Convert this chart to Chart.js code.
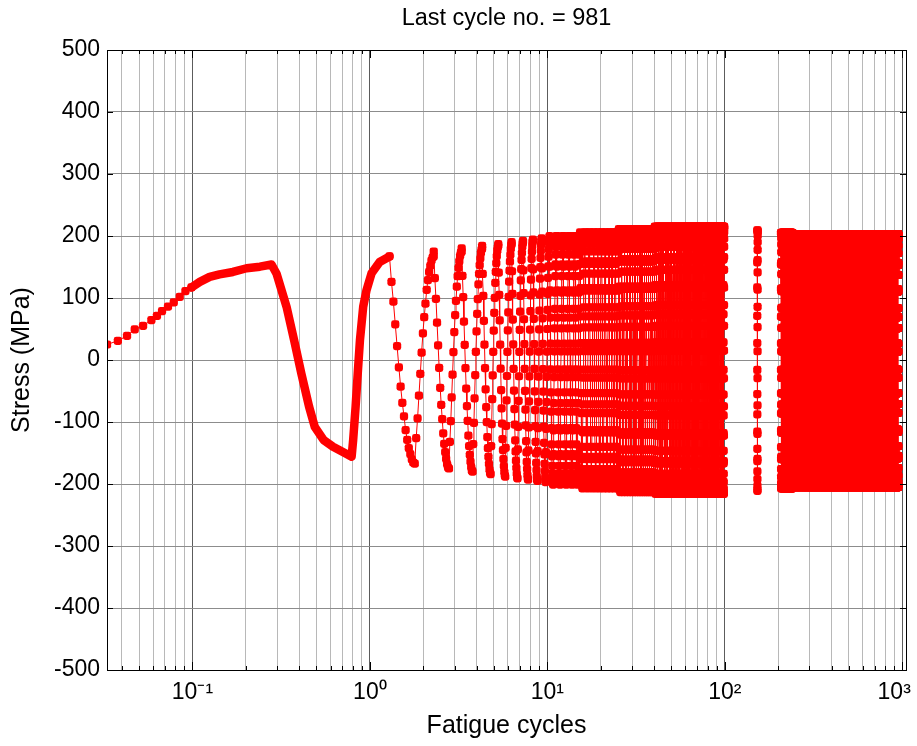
<!DOCTYPE html>
<html><head><meta charset="utf-8">
<script src="https://cdn.jsdelivr.net/npm/chart.js@4/dist/chart.umd.min.js"></script>
<style>html,body{margin:0;padding:0;background:#fff;} #wrap{width:917px;height:746px;position:relative;}</style>
</head><body><div id="wrap"><canvas id="c" width="917" height="746"></canvas></div>
<script>
// ---------------- text ----------------
const titleText = 'Last cycle no. = 981';
const xLabel = 'Fatigue cycles';
const yLabel = 'Stress (MPa)';

// ---------------- axes ----------------
const xRange = [0.033, 1050];
const yRange = [-500, 500];
const yTickStep = 100;
const xDecades = [-2, -1, 0, 1, 2, 3];
// last label carries trailing spacing so that it stays inside the figure, as in the reference
const xTickLabels = {'-1': '10\u207B\u00B9', '0': '10\u2070', '1': '10\u00B9', '2': '10\u00B2', '3': '10\u00B3\u2002\u2009'};

// ---------------- data ----------------
// first loading, separate markers (cycles, MPa)
const loadX = [0.033, 0.038, 0.0428, 0.0473, 0.0527, 0.0587, 0.0631, 0.0674, 0.0728, 0.0785, 0.0848, 0.0913, 0.0987];
const loadY = [25, 31, 39, 49.5, 55, 64.5, 71, 79, 86, 93, 102, 111, 117];
// end of first loading + first reversals, densely sampled
const denseX = [0.0987, 0.11, 0.125, 0.142, 0.169, 0.202, 0.24, 0.279, 0.298, 0.339, 0.374, 0.411, 0.454, 0.489, 0.548, 0.62, 0.722, 0.789, 0.805, 0.831, 0.854, 0.879, 0.917, 0.958, 1.022, 1.135, 1.29];
const denseY = [117, 126, 134, 138, 142, 148, 150.5, 154, 139, 86, 32, -22, -75, -108, -129, -140, -150, -156, -129, -75, -22, 32, 86, 113, 140, 158, 167];

// marker levels within one unloading half-cycle (1 = peak, -1 = valley), read from cycle 2
const branchShape = [1, 0.754, 0.563, 0.344, 0.135, -0.072, -0.257, -0.413, -0.545, -0.677, -0.772, -0.850, -0.91, -0.96, -0.99, -1];
const peakPhase = 0.29;   // cycle fraction at which the peak occurs
const valleyPhase = 0.79; // cycle fraction at which the valley occurs

// recorded cycles in groups: first cycle, last cycle, step, peak stress, valley stress, block
const groupFirst  = [1, 2, 3, 4, 5, 6, 7, 8, 9, 10, 15, 25, 40, 152, 207, 241];
const groupLast   = [1, 2, 3, 4, 5, 6, 7, 8, 9, 14, 24, 39, 98, 152, 240, 949];
const groupStep   = [1, 1, 1, 1, 1, 1, 1, 1, 1, 1, 1, 1, 1, 1, 1, 1];
const groupPeak   = [167, 175, 180, 184, 187, 190, 192, 194, 196, 200, 206, 211, 215, 209, 205, 203];
const groupValley = [-167, -175, -180, -184, -188, -191, -193, -195, -197, -201, -207, -213, -216, -211, -207, -205];
const groupBlock  = [0, 0, 0, 0, 0, 0, 0, 0, 0, 0, 0, 0, 0, 1, 2, 2];

// ---------------- build point lists ----------------
function zip(xs, ys) { return xs.map((x, i) => ({x: x, y: ys[i]})); }
const nHalf = branchShape.length - 1;
const blocks = [[], [], []];
for (let g = 0; g < groupFirst.length; g++) {
  const P = groupPeak[g], V = groupValley[g], pts = blocks[groupBlock[g]];
  for (let n = groupFirst[g]; n <= groupLast[g]; n += groupStep[g]) {
    for (let i = 0; i <= nHalf; i++) {
      pts.push({x: n + peakPhase + i * (valleyPhase - peakPhase) / nHalf, y: V + (P - V) * (1 + branchShape[i]) / 2});
    }
    for (let i = 1; i <= nHalf; i++) {
      pts.push({x: n + valleyPhase + i * (1 + peakPhase - valleyPhase) / nHalf, y: V + (P - V) * (1 - branchShape[i]) / 2});
    }
  }
}

const RED = '#ff0000';
const markerDs = (data) => ({
  data: data, showLine: true, borderColor: RED, borderWidth: 1, backgroundColor: RED,
  pointBackgroundColor: RED, pointBorderWidth: 0, pointStyle: 'rectRounded', pointRadius: 4.8,
  pointHoverRadius: 4.8, tension: 0
});

const datasets = [
  markerDs(zip(loadX, loadY)),
  {data: zip(denseX, denseY), showLine: true, borderColor: RED, borderWidth: 8.5, pointRadius: 0,
   borderCapStyle: 'round', borderJoinStyle: 'round', tension: 0},
  markerDs(blocks[0]),
  markerDs(blocks[1]),
  markerDs(blocks[2])
];

// ---------------- helpers ----------------
function decadeOf(v) {
  const e = Math.round(Math.log10(v));
  return Math.abs(v - Math.pow(10, e)) / v < 1e-9 ? e : null;
}
const FONT = "'Liberation Sans', Arial, Helvetica, sans-serif";

const framePlugin = {
  id: 'frame',
  afterDatasetsDraw(chart) {
    const {ctx, chartArea: a, scales} = chart;
    const x = scales.x, y = scales.y;
    ctx.save();
    ctx.strokeStyle = '#000';
    ctx.lineWidth = 1;
    ctx.beginPath();
    y.ticks.forEach(t => {
      const py = Math.round(y.getPixelForValue(t.value)) + 0.5;
      ctx.moveTo(a.left, py); ctx.lineTo(a.left + 6, py);
      ctx.moveTo(a.right, py); ctx.lineTo(a.right - 6, py);
    });
    x.ticks.forEach(t => {
      const px = Math.round(x.getPixelForValue(t.value)) + 0.5;
      const L = decadeOf(t.value) !== null ? 8 : 4;
      ctx.moveTo(px, a.bottom); ctx.lineTo(px, a.bottom - L);
      ctx.moveTo(px, a.top); ctx.lineTo(px, a.top + L);
    });
    ctx.stroke();
    ctx.strokeRect(Math.round(a.left) + 0.5, Math.round(a.top) + 0.5, Math.round(a.right - a.left), Math.round(a.bottom - a.top));
    ctx.restore();
  }
};

new Chart(document.getElementById('c'), {
  type: 'scatter',
  data: {datasets: datasets},
  options: {
    responsive: false, animation: false, parsing: false, normalized: true, events: [],
    devicePixelRatio: 1,
    layout: {padding: {left: 0, right: 11, top: 0, bottom: 0}},
    plugins: {
      legend: {display: false}, tooltip: {enabled: false}, title: {display: false}
    },
    scales: {
      x: {
        type: 'logarithmic', min: xRange[0], max: xRange[1],
        afterBuildTicks(scale) {
          const t = [];
          xDecades.forEach(d => { for (let m = 1; m <= 9; m++) { const v = m * Math.pow(10, d); if (v >= xRange[0] && v <= xRange[1]) t.push({value: v}); } });
          scale.ticks = t;
        },
        afterFit(scale) { scale.height = 76; scale.paddingLeft = 0; scale.paddingRight = 0; },
        ticks: {
          autoSkip: false, maxRotation: 0, padding: 9, color: '#000', font: {family: FONT, size: 23},
          callback(value) { const e = decadeOf(value); return e !== null && xTickLabels[String(e)] ? xTickLabels[String(e)] : ''; }
        },
        grid: {
          drawTicks: false,
          color: (c) => (c.tick && decadeOf(c.tick.value) !== null) ? '#5c5c5c' : '#b8b8b8',
          lineWidth: 1
        },
        border: {display: false},
        title: {display: true, text: xLabel, color: '#000', font: {family: FONT, size: 25}, padding: {top: 5, bottom: 5}}
      },
      // top axis only carries the title, centred over the plot box
      xTop: {
        type: 'linear', position: 'top', min: 0, max: 1,
        afterFit(scale) { scale.height = 50; scale.paddingLeft = 0; scale.paddingRight = 0; },
        ticks: {display: false},
        grid: {display: false, drawTicks: false},
        border: {display: false},
        title: {display: true, text: titleText, color: '#000', font: {family: FONT, size: 23.5}, padding: {top: 4, bottom: 0}}
      },
      y: {
        type: 'linear', min: yRange[0], max: yRange[1],
        afterFit(scale) { scale.width = 107; },
        ticks: {stepSize: yTickStep, padding: 7, color: '#000', font: {family: FONT, size: 23}},
        grid: {drawTicks: false, color: '#8c8c8c', lineWidth: 1},
        border: {display: false},
        title: {display: true, text: yLabel, color: '#000', font: {family: FONT, size: 25}, padding: {top: 7, bottom: 0}}
      }
    }
  },
  plugins: [framePlugin]
});
</script>
</body></html>
